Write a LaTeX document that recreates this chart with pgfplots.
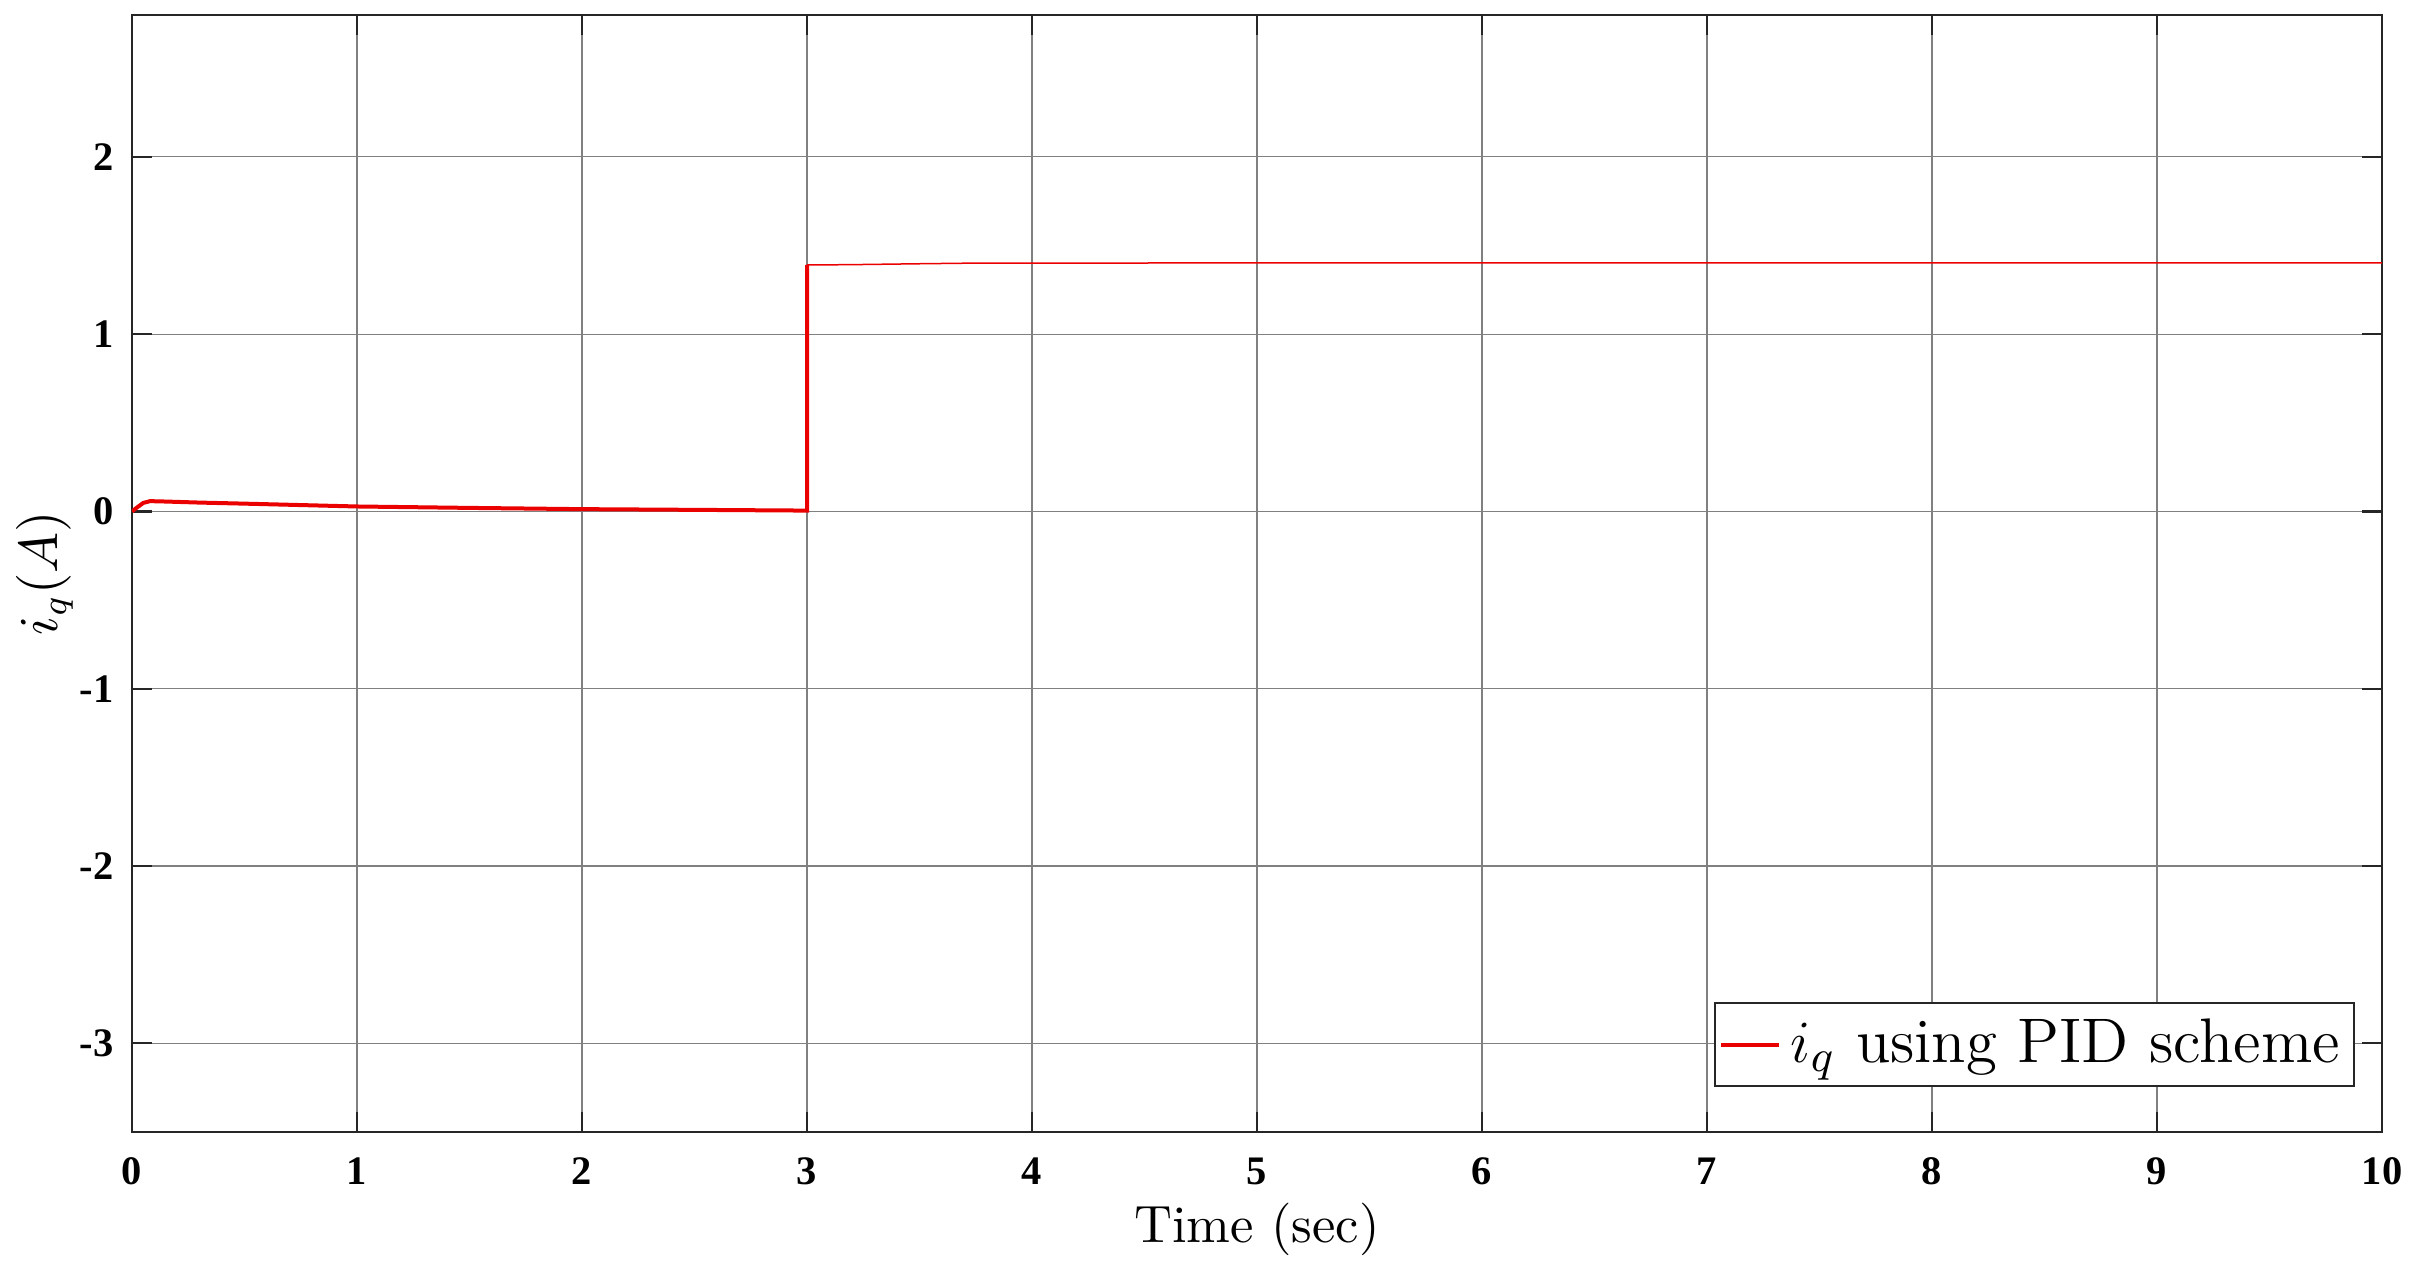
\documentclass[border=0pt]{standalone}
\usepackage{pgfplots}
\pgfplotsset{compat=1.18}
\usepackage{fontspec}
\newfontfamily\tickfont{Liberation Serif}
\definecolor{lineRed}{RGB}{235,0,0}
\begin{document}
\begin{tikzpicture}
\begin{axis}[
  scale only axis,
  width=450pt, height=223.4pt,
  xmin=0, xmax=10, ymin=-3.5, ymax=2.8,
  xtick={0,1,...,10},
  ytick={-3,-2,-1,0,1,2},
  grid=major,
  major grid style={color=black!50, line width=0.25pt},
  axis line style={color=black!85, line width=0.45pt},
  tick style={color=black!85, line width=0.45pt},
  major tick length=4pt,
  tick align=inside,
  tick pos=both,
  /pgf/number format/assume math mode=true,
  ticklabel style={font=\tickfont\bfseries\fontsize{8.1}{9.5}\selectfont},
  xticklabel style={anchor=north, inner sep=0pt, yshift=-5pt},
  yticklabel style={anchor=east, inner sep=0pt, xshift=-3.5pt},
  xlabel={Time (sec)},
  ylabel={$i_q(A)$},
  label style={font=\fontsize{10.5}{12}\selectfont},
  xlabel style={at={(axis description cs:0.5,0)}, anchor=base, yshift=-22pt, inner sep=0pt},
  ylabel style={at={(axis description cs:-0.0387,0.5)}, anchor=center, inner sep=0pt},
  legend style={at={(rel axis cs:0.988,0.04)}, anchor=south east,
    draw=black!85, line width=0.45pt, fill=white,
    font=\fontsize{12.6}{14.5}\selectfont, inner xsep=0.8pt, inner ysep=1.2pt,
    /tikz/every even column/.append style={column sep=0pt}},
  legend cell align=left,
  legend image code/.code={\draw[#1, line width=0.8pt] (0pt,0pt) -- (11.5pt,0pt);},
]
\addplot[lineRed, line width=0.8pt] coordinates {
  (0,0) (0.02,0.02) (0.05,0.048) (0.08,0.058) (0.12,0.057) (0.3,0.05)
  (0.5,0.044) (1,0.028) (1.5,0.02) (2,0.013) (2.5,0.009) (2.98,0.005)
  (3.0,0.005) (3.0,1.39)
};
\addlegendentry{$i_q$ using PID scheme}
\addplot[lineRed, line width=0.3pt, forget plot] coordinates {
  (3.0,1.39) (3.2,1.392) (3.5,1.397) (3.7,1.4) (5,1.402) (6,1.402) (10,1.402)
};
\end{axis}
\path (current axis.south west) ++(-26.4pt,-27.8pt) coordinate (bbA);
\path (current axis.north east) ++(7pt,3pt) coordinate (bbB);
\path (bbA) rectangle (bbB);
\end{tikzpicture}
\end{document}
